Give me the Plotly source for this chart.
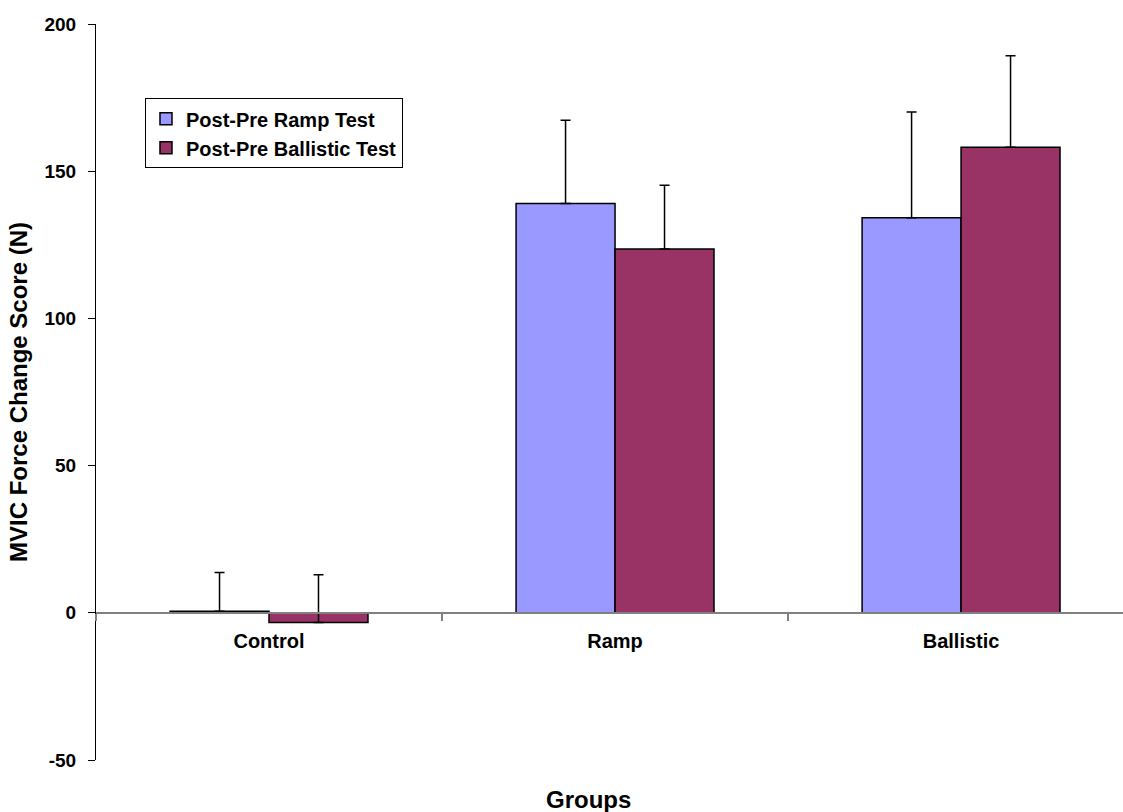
import plotly.graph_objects as go

groups = ["Control", "Ramp", "Ballistic"]
ramp_test = [0.5, 139.0, 134.2]
ramp_err = [13.2, 28.3, 35.9]
ballistic_test = [-3.3, 123.6, 158.1]
ballistic_err = [16.2, 21.6, 31.1]
y_ticks = [-50, 0, 50, 100, 150, 200]
y_tick_text = ["-50", "0", "50", "100", "150", "200"]

FONT = "Liberation Sans, Arial, sans-serif"


def bar(name, values, errs, color):
    return go.Bar(
        name=name,
        x=groups,
        y=values,
        marker=dict(color=color, line=dict(color="black", width=1.5)),
        error_y=dict(
            type="data",
            symmetric=False,
            array=errs,
            arrayminus=[0] * len(errs),
            color="black",
            thickness=1.5,
            width=5,
        ),
    )


fig = go.Figure([
    bar("Post-Pre Ramp Test", ramp_test, ramp_err, "#9999FF"),
    bar("Post-Pre Ballistic Test", ballistic_test, ballistic_err, "#993366"),
])

fig.update_layout(
    width=1123,
    height=812,
    margin=dict(l=96, r=0, t=24, b=52),
    paper_bgcolor="white",
    plot_bgcolor="white",
    barmode="group",
    bargap=0.428,
    bargroupgap=0,
    font=dict(family=FONT, size=16, color="black"),
    showlegend=True,
    legend=dict(
        x=0.0477, y=0.899, xanchor="left", yanchor="top",
        bgcolor="white", bordercolor="black", borderwidth=1,
        font=dict(family=FONT, size=20, color="black", weight="bold"),
        itemwidth=30, tracegroupgap=0,
    ),
    xaxis=dict(
        range=[-0.5, 2.468],
        anchor="free",
        position=0.2,
        showline=True,
        linecolor="#808080",
        linewidth=2,
        ticks="outside",
        tickson="boundaries",
        ticklen=7,
        tickcolor="#808080",
        tickwidth=1.5,
        showgrid=False,
        zeroline=False,
        ticklabelstandoff=10,
        tickfont=dict(family=FONT, size=20, color="black", weight="bold"),
    ),
    yaxis=dict(
        range=[-50, 200],
        tickvals=y_ticks,
        ticktext=y_tick_text,
        showline=True,
        linecolor="black",
        linewidth=1,
        ticks="outside",
        ticklen=7,
        tickcolor="black",
        showgrid=False,
        zeroline=False,
        ticklabelstandoff=8,
        tickfont=dict(family=FONT, size=19, color="black", weight="bold"),
        title=dict(
            text="MVIC Force Change Score (N)",
            font=dict(family=FONT, size=24, color="black", weight="bold"),
            standoff=10,
        ),
    ),
    annotations=[
        dict(
            text="Groups", xref="paper", yref="paper",
            x=(588 - 96) / (1123 - 96), y=-0.054,
            xanchor="center", yanchor="middle", showarrow=False,
            font=dict(family=FONT, size=24, color="black", weight="bold"),
        )
    ],
)

fig.write_html("out.html")
